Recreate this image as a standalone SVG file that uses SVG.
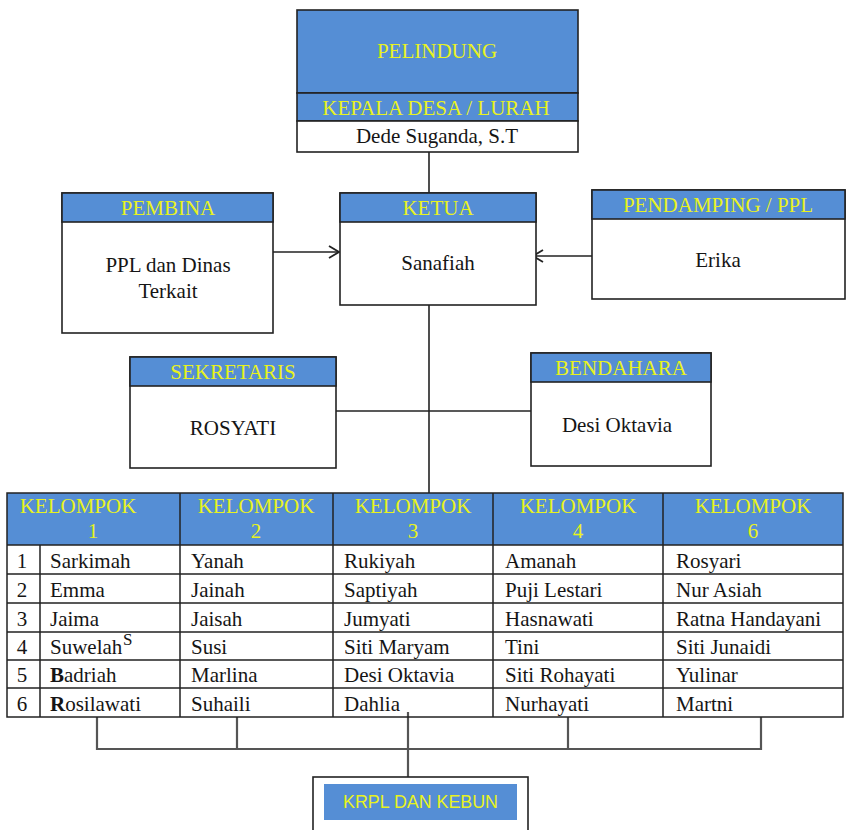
<svg xmlns="http://www.w3.org/2000/svg" width="847" height="830" viewBox="0 0 847 830">
<style>
  .box{fill:#fff;stroke:#222;stroke-width:1.6}
  .hdr{fill:#558ed5;stroke:#222;stroke-width:1.6}
  .ht{font-family:"Liberation Serif","Times New Roman",serif;font-size:21px;fill:#e8f21e;text-anchor:middle}
  .bt{font-family:"Liberation Serif","Times New Roman",serif;font-size:21px;fill:#151515;text-anchor:middle}
  .td{font-family:"Liberation Serif","Times New Roman",serif;font-size:21px;fill:#151515}
  .tn{font-family:"Liberation Serif","Times New Roman",serif;font-size:21px;fill:#151515;text-anchor:middle}
  .ln{stroke:#222;stroke-width:1.6;fill:none}
  .br{stroke:#555;stroke-width:2.2;fill:none}
  .grid{stroke:#222;stroke-width:1.5;fill:none}
</style>
<defs>
  <marker id="arr" viewBox="0 0 12 14" refX="11" refY="7" markerWidth="12" markerHeight="14" markerUnits="userSpaceOnUse" orient="auto">
    <path d="M1,1 L11,7 L1,13" fill="none" stroke="#222" stroke-width="1.8"/>
  </marker>
</defs>
<rect width="847" height="830" fill="#fff"/>

<g id="connectors">
  <line class="ln" x1="429" y1="152" x2="429" y2="193"/>
  <line class="ln" x1="273" y1="252" x2="339" y2="252" marker-end="url(#arr)"/>
  <line class="ln" x1="592" y1="256" x2="533" y2="256" marker-end="url(#arr)"/>
  <line class="ln" x1="429" y1="305" x2="429" y2="493"/>
  <line class="ln" x1="336" y1="411" x2="531" y2="411"/>
  <path class="br" d="M97,717 V749 H761 V717 M237,717 V749 M568,717 V749"/>
  <line class="br" x1="408" y1="712" x2="408" y2="777"/>
</g>

<g id="pelindung">
  <rect class="hdr" x="297" y="10" width="281" height="83"/>
  <rect class="hdr" x="297" y="93" width="281" height="28"/>
  <rect class="box" x="297" y="121" width="281" height="31"/>
  <text class="ht" x="437" y="58">PELINDUNG</text>
  <text class="ht" x="436" y="115">KEPALA DESA / LURAH</text>
  <text class="bt" x="437" y="143">Dede Suganda, S.T</text>
</g>

<g id="pembina">
  <rect class="box" x="62" y="193" width="211" height="140"/>
  <rect class="hdr" x="62" y="193" width="211" height="29"/>
  <text class="ht" x="168" y="215">PEMBINA</text>
  <text class="bt" x="168" y="272">PPL dan Dinas</text>
  <text class="bt" x="168" y="298">Terkait</text>
</g>

<g id="ketua">
  <rect class="box" x="340" y="193" width="196" height="112"/>
  <rect class="hdr" x="340" y="193" width="196" height="29"/>
  <text class="ht" x="438" y="215">KETUA</text>
  <text class="bt" x="438" y="270">Sanafiah</text>
</g>

<g id="pendamping">
  <rect class="box" x="592" y="190" width="253" height="109"/>
  <rect class="hdr" x="592" y="190" width="253" height="29"/>
  <text class="ht" x="718" y="212">PENDAMPING / PPL</text>
  <text class="bt" x="718" y="267">Erika</text>
</g>

<g id="sekretaris">
  <rect class="box" x="130" y="357" width="206" height="111"/>
  <rect class="hdr" x="130" y="357" width="206" height="29"/>
  <text class="ht" x="233" y="379">SEKRETARIS</text>
  <text class="bt" x="233" y="435">ROSYATI</text>
</g>

<g id="bendahara">
  <rect class="box" x="531" y="353" width="180" height="113"/>
  <rect class="hdr" x="531" y="353" width="180" height="29"/>
  <text class="ht" x="621" y="375">BENDAHARA</text>
  <text class="bt" x="617" y="432">Desi Oktavia</text>
</g>

<g id="kelompok-table">
  <rect x="7" y="493" width="836" height="52" fill="#558ed5"/>
  <rect class="grid" x="7" y="493" width="836" height="224"/>
  <path class="grid" d="M7,545 H843 M7,574 H843 M7,603 H843 M7,632 H843 M7,660 H843 M7,688 H843 M180,493 V717 M333,493 V717 M493,493 V717 M663,493 V717 M40,545 V717"/>
  <text class="ht" x="78" y="513">KELOMPOK</text>
  <text class="ht" x="93" y="538">1</text>
  <text class="ht" x="256" y="513">KELOMPOK</text>
  <text class="ht" x="256" y="538">2</text>
  <text class="ht" x="413" y="513">KELOMPOK</text>
  <text class="ht" x="413" y="538">3</text>
  <text class="ht" x="578" y="513">KELOMPOK</text>
  <text class="ht" x="578" y="538">4</text>
  <text class="ht" x="753" y="513">KELOMPOK</text>
  <text class="ht" x="753" y="538">6</text>

  <text class="tn" x="22" y="568">1</text>
  <text class="tn" x="22" y="597">2</text>
  <text class="tn" x="22" y="626">3</text>
  <text class="tn" x="22" y="654">4</text>
  <text class="tn" x="22" y="682">5</text>
  <text class="tn" x="22" y="711">6</text>

  <text class="td" x="50" y="568">Sarkimah</text>
  <text class="td" x="50" y="597">Emma</text>
  <text class="td" x="50" y="626">Jaima</text>
  <text class="td" x="50" y="654">Suwelah</text>
  <text class="td" x="123" y="645" style="font-size:17px">S</text>
  <text class="td" x="50" y="682"><tspan font-weight="bold">B</tspan>adriah</text>
  <text class="td" x="50" y="711"><tspan font-weight="bold">R</tspan>osilawati</text>

  <text class="td" x="191" y="568">Yanah</text>
  <text class="td" x="191" y="597">Jainah</text>
  <text class="td" x="191" y="626">Jaisah</text>
  <text class="td" x="191" y="654">Susi</text>
  <text class="td" x="191" y="682">Marlina</text>
  <text class="td" x="191" y="711">Suhaili</text>

  <text class="td" x="344" y="568">Rukiyah</text>
  <text class="td" x="344" y="597">Saptiyah</text>
  <text class="td" x="344" y="626">Jumyati</text>
  <text class="td" x="344" y="654">Siti Maryam</text>
  <text class="td" x="344" y="682">Desi Oktavia</text>
  <text class="td" x="344" y="711">Dahlia</text>

  <text class="td" x="505" y="568">Amanah</text>
  <text class="td" x="505" y="597">Puji Lestari</text>
  <text class="td" x="505" y="626">Hasnawati</text>
  <text class="td" x="505" y="654">Tini</text>
  <text class="td" x="505" y="682">Siti Rohayati</text>
  <text class="td" x="505" y="711">Nurhayati</text>

  <text class="td" x="676" y="568">Rosyari</text>
  <text class="td" x="676" y="597">Nur Asiah</text>
  <text class="td" x="676" y="626">Ratna Handayani</text>
  <text class="td" x="676" y="654">Siti Junaidi</text>
  <text class="td" x="676" y="682">Yulinar</text>
  <text class="td" x="676" y="711">Martni</text>
</g>

<g id="krpl">
  <rect class="box" x="313" y="777" width="215" height="60" stroke-width="2"/>
  <rect x="324" y="784" width="193" height="36" fill="#558ed5"/>
  <text x="420.5" y="808" text-anchor="middle" textLength="155" lengthAdjust="spacingAndGlyphs" style="font-family:'Liberation Sans',sans-serif;font-size:19px;fill:#e8f21e">KRPL DAN KEBUN</text>
</g>
</svg>
